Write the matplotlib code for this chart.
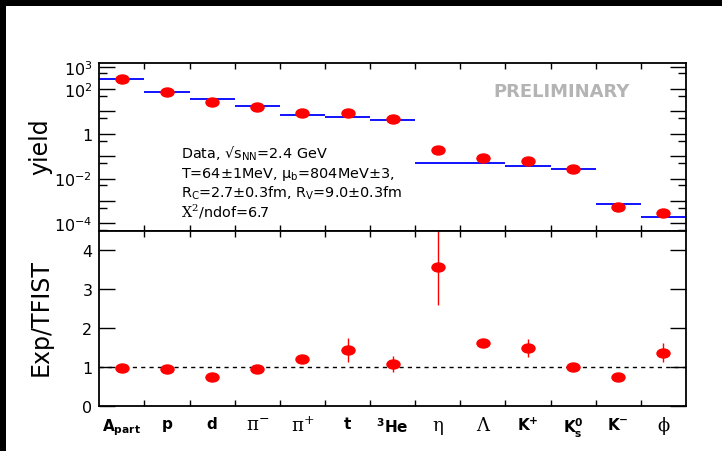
import matplotlib
matplotlib.use('Agg')
import matplotlib.pyplot as plt
import numpy as np
from matplotlib.path import Path
from matplotlib.patches import Rectangle
from matplotlib.ticker import FixedLocator, FuncFormatter, NullFormatter

plt.rcParams['font.family'] = ['DejaVu Sans']
plt.rcParams['mathtext.fontset'] = 'dejavusans'

# ---------------- data ----------------
particles = ['A_part', 'p', 'd', 'pi-', 'pi+', 't', '3He', 'eta', 'Lambda', 'K+', 'Ks0', 'K-', 'phi']
tick_labels = [r'A$_{\mathbf{part}}$', 'p', 'd', 'π$^{\mathrm{-}}$', 'π$^{\mathrm{+}}$', 't',
               r'$^{\mathbf{3}}$He', 'η', 'Λ', r'K$^{\mathbf{+}}$',
               r'K$^{\mathbf{0}}_{\mathbf{s}}$', r'K$^{\mathbf{-}}$', 'ϕ']
greek = [False, False, False, True, True, False, False, True, True, False, False, False, True]

yield_data = [290, 71, 27, 16.2, 8.4, 8.4, 4.4, 0.186, 0.083, 0.058, 0.028, 5.6e-4, 2.8e-4]
yield_model = [290, 76, 35.6, 17.0, 7.0, 5.8, 4.1, 0.050, 0.050, 0.038, 0.027, 7.1e-4, 2.0e-4]
ratio = [0.99, 0.97, 0.76, 0.95, 1.21, 1.44, 1.09, 3.58, 1.63, 1.50, 1.01, 0.76, 1.38]
ratio_err = [0.02, 0.02, 0.02, 0.02, 0.03, 0.31, 0.21, 0.97, 0.03, 0.24, 0.03, 0.02, 0.24]

ylog_labels = {3: r'$10^{3}$', 2: r'$10^{2}$', 0: '1', -2: r'$10^{-2}$', -4: r'$10^{-4}$'}

info_lines = [r'Data, √s$_{\mathrm{NN}}$=2.4 GeV',
              r'T=64±1MeV, μ$_{\mathrm{b}}$=804MeV±3,',
              r'R$_{\mathrm{C}}$=2.7±0.3fm, R$_{\mathrm{V}}$=9.0±0.3fm',
              r'$\mathrm{X}^{2}$/ndof=6.7']

# ---------------- figure ----------------
W, H = 722, 452
fig = plt.figure(figsize=(W / 100, H / 100), dpi=100)

def fx(px):
    return px / W

def fy(py):
    return 1 - py / H

L, R = 99.3, 686.0
ax1 = fig.add_axes([fx(L), fy(232.0), fx(R) - fx(L), (232.0 - 64.0) / H])
ax2 = fig.add_axes([fx(L), fy(407.3), fx(R) - fx(L), (407.3 - 232.0) / H])

n = len(particles)
xc = np.arange(n) + 0.5
edges = np.arange(1, n)

circ = Path.unit_circle()
ell = Path(circ.vertices * np.array([1.0, 0.69]), circ.codes)
ms = 9.4

# top panel
ax1.hlines(yield_model, xc - 0.5, xc + 0.5, colors='#0000ff', lw=1.3, zorder=2)
ax1.plot(xc, yield_data, ls='none', marker=ell, ms=ms, color='#ff0000', mec='#ff0000', zorder=3)
ax1.set_yscale('log')
ax1.set_ylim(10 ** -4.345, 10 ** 3.164)
ax1.set_xlim(0, n)
ax1.yaxis.set_major_locator(FixedLocator([10.0 ** k for k in range(-4, 4)]))
ax1.yaxis.set_major_formatter(FuncFormatter(
    lambda v, p: ylog_labels.get(int(round(np.log10(v))), '')))
ax1.yaxis.set_minor_locator(FixedLocator([5 * 10.0 ** k for k in range(-5, 3)]))
ax1.yaxis.set_minor_formatter(NullFormatter())
ax1.tick_params(axis='y', which='major', direction='in', length=11.5, width=1.0,
                left=True, right=True, labelsize=11.5, pad=5)
ax1.tick_params(axis='y', which='minor', direction='in', length=5.8, width=1.0,
                left=True, right=True)
ax1.xaxis.set_major_locator(FixedLocator(edges))
ax1.xaxis.set_minor_locator(FixedLocator([]))
ax1.tick_params(axis='x', which='major', direction='in', length=4.2, width=1.0,
                top=True, bottom=True, labelbottom=False)

# bottom panel
ax2.axhline(1.0, color='black', lw=1.0, ls=(0, (3, 3)), zorder=1)
ax2.errorbar(xc, ratio, yerr=ratio_err, fmt='none', ecolor='#ff0000', elinewidth=1.0, capsize=0, zorder=2)
ax2.plot(xc, ratio, ls='none', marker=ell, ms=ms, color='#ff0000', mec='#ff0000', zorder=3)
ax2.set_ylim(0, 4.5)
ax2.set_xlim(0, n)
ax2.yaxis.set_major_locator(FixedLocator([0, 1, 2, 3, 4]))
ax2.tick_params(axis='y', which='major', direction='in', length=11.5, width=1.0,
                left=True, right=True, labelsize=11.5, pad=5)
ax2.xaxis.set_major_locator(FixedLocator(xc))
ax2.set_xticklabels(tick_labels)
ax2.xaxis.set_minor_locator(FixedLocator(edges))
ax2.tick_params(axis='x', which='major', length=0, pad=7, labelsize=11)
ax2.tick_params(axis='x', which='minor', direction='in', length=4.2, width=1.0,
                top=True, bottom=True)
for lbl, g in zip(ax2.get_xticklabels(), greek):
    if g:
        lbl.set_fontfamily(['DejaVu Serif'])
        lbl.set_math_fontfamily('dejavuserif')
        lbl.set_fontsize(13)
    else:
        lbl.set_fontweight('bold')

for ax in (ax1, ax2):
    for s in ax.spines.values():
        s.set_linewidth(1.3)

# texts
fig.text(fx(40), fy(146.7), 'yield', rotation=90, ha='center', va='center', fontsize=17)
fig.text(fx(40.5), fy(318), 'Exp/TFIST', rotation=90, ha='center', va='center', fontsize=17)
fig.text(fx(561.5), fy(97.3), 'PRELIMINARY', ha='center', va='baseline', fontsize=13,
         fontweight='bold', color='#b4b4b4')
baselines = [159.0, 178.5, 197.5, 217.5]
for i, (t, b) in enumerate(zip(info_lines, baselines)):
    tt = fig.text(fx(181), fy(b), t, ha='left', va='baseline', fontsize=10.4)
    if i == 3:
        tt.set_math_fontfamily('dejavuserif')

# black border bands
fig.add_artist(Rectangle((0, fy(7)), 1, 7 / H, transform=fig.transFigure,
                         facecolor='black', edgecolor='none', zorder=10))
fig.add_artist(Rectangle((0, 0), 5.5 / W, 1, transform=fig.transFigure,
                         facecolor='black', edgecolor='none', zorder=10))

fig.savefig('out.png', dpi=100)
